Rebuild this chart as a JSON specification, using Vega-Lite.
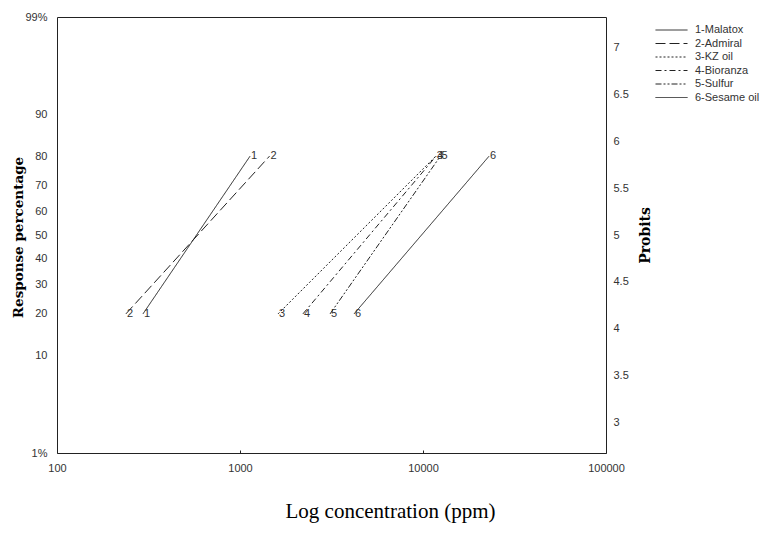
{
  "$schema": "https://vega.github.io/schema/vega-lite/v6.json",
  "width": 549,
  "height": 436,
  "autosize": "none",
  "padding": {"left": 57, "top": 17, "right": 162, "bottom": 102},
  "background": "white",
  "config": {
    "view": {"stroke": "#222", "strokeWidth": 1},
    "font": "Liberation Sans"
  },
  "data": {
    "values": [
      {"series": "1-Malatox", "conc": 295, "probit": 4.1584, "label": "1"},
      {"series": "1-Malatox", "conc": 1135, "probit": 5.8416, "label": "1"},
      {"series": "2-Admiral", "conc": 238, "probit": 4.1584, "label": "2"},
      {"series": "2-Admiral", "conc": 1450, "probit": 5.8416, "label": "2"},
      {"series": "3-KZ oil", "conc": 1614, "probit": 4.1584, "label": "3"},
      {"series": "3-KZ oil", "conc": 11750, "probit": 5.8416, "label": "3"},
      {"series": "4-Bioranza", "conc": 2207, "probit": 4.1584, "label": "4"},
      {"series": "4-Bioranza", "conc": 11800, "probit": 5.8416, "label": "4"},
      {"series": "5-Sulfur", "conc": 3105, "probit": 4.1584, "label": "5"},
      {"series": "5-Sulfur", "conc": 12450, "probit": 5.8416, "label": "5"},
      {"series": "6-Sesame oil", "conc": 4200, "probit": 4.1584, "label": "6"},
      {"series": "6-Sesame oil", "conc": 22970, "probit": 5.8416, "label": "6"}
    ]
  },
  "layer": [
    {
      "mark": {"type": "line", "strokeWidth": 1, "color": "#222"},
      "encoding": {
        "x": {
          "field": "conc",
          "type": "quantitative",
          "scale": {"type": "log", "domain": [100, 100000], "nice": false},
          "axis": {
            "values": [100, 1000, 10000, 100000],
            "format": "d",
            "grid": false,
            "domain": false,
            "ticks": true,
            "tickSize": -3,
            "tickColor": "#222",
            "labelPadding": 12,
            "labelFontSize": 11,
            "labelColor": "#333",
            "labelFlush": false,
            "labelOverlap": false,
            "title": "Log concentration (ppm)",
            "titleFont": "Liberation Serif",
            "titleFontSize": 21,
            "titleFontWeight": "normal",
            "titleColor": "#000",
            "titleX": 333,
            "titleY": 58,
            "titleAnchor": "middle",
            "titleBaseline": "middle"
          }
        },
        "y": {
          "field": "probit",
          "type": "quantitative",
          "scale": {"domain": [2.674, 7.326], "nice": false, "zero": false},
          "axis": {
            "orient": "left",
            "values": [2.674, 3.7184, 4.1584, 4.4756, 4.7467, 5, 5.2533, 5.5244, 5.8416, 6.2816, 7.326],
            "labelExpr": "datum.value < 3 ? '1%' : datum.value > 7 ? '99%' : format(cumulativeNormal(datum.value, 5, 1) * 100, '.0f')",
            "grid": false,
            "domain": false,
            "ticks": false,
            "labelPadding": 10,
            "labelFontSize": 11,
            "labelColor": "#333",
            "labelFlush": false,
            "labelOverlap": false,
            "labelBaseline": "middle",
            "title": "Response percentage",
            "titleFont": "DejaVu Serif",
            "titleFontSize": 13.5,
            "titleFontWeight": "bold",
            "titleColor": "#000",
            "titleAngle": 270,
            "titleX": -39,
            "titleY": 220,
            "titleAnchor": "middle",
            "titleBaseline": "middle"
          }
        },
        "strokeDash": {
          "field": "series",
          "type": "nominal",
          "scale": {
            "domain": ["1-Malatox", "2-Admiral", "3-KZ oil", "4-Bioranza", "5-Sulfur", "6-Sesame oil"],
            "range": [[1, 0], [10, 4], [2, 2], [6, 3, 2, 3], [6, 2, 2, 2, 2, 2], [1, 0]]
          },
          "legend": {
            "orient": "none",
            "legendX": 598,
            "legendY": 7,
            "title": null,
            "symbolType": "stroke",
            "symbolSize": 1024,
            "symbolStrokeColor": "#222",
            "symbolStrokeWidth": 1,
            "clipHeight": 12,
            "labelFontSize": 11,
            "labelColor": "#333",
            "labelOffset": 7,
            "rowPadding": 1.5
          }
        }
      }
    },
    {
      "mark": {"type": "text", "align": "left", "baseline": "middle", "fontSize": 11, "color": "#333", "dx": 1},
      "encoding": {
        "x": {"field": "conc", "type": "quantitative", "scale": {"type": "log", "domain": [100, 100000], "nice": false}},
        "y": {
          "field": "probit",
          "type": "quantitative",
          "scale": {"domain": [2.674, 7.326], "nice": false, "zero": false},
          "axis": {
            "orient": "right",
            "values": [3, 3.5, 4, 4.5, 5, 5.5, 6, 6.5, 7],
            "labelExpr": "datum.value + ''",
            "grid": false,
            "domain": false,
            "ticks": false,
            "labelPadding": 7,
            "labelFontSize": 11,
            "labelColor": "#333",
            "labelFlush": false,
            "labelOverlap": false,
            "title": "Probits",
            "titleFont": "DejaVu Serif",
            "titleFontSize": 14,
            "titleFontWeight": "bold",
            "titleColor": "#000",
            "titleAngle": 270,
            "titleX": 39,
            "titleY": 218,
            "titleAnchor": "middle",
            "titleBaseline": "middle"
          }
        },
        "text": {"field": "label"}
      }
    }
  ],
  "resolve": {"axis": {"y": "independent"}}
}
